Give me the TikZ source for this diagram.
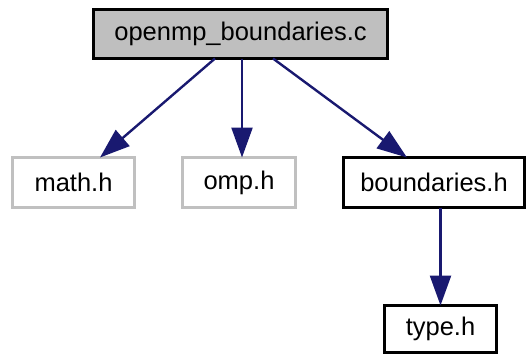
\documentclass[tikz,border=0pt]{standalone}
\usepackage{fontspec}
\setmainfont{Liberation Sans}
\usetikzlibrary{arrows.meta}
\definecolor{edgecol}{HTML}{191970}
\definecolor{greyfill}{HTML}{BFBFBF}
\definecolor{greyline}{HTML}{C0C0C0}
\begin{document}
\begin{tikzpicture}[x=1pt,y=-1pt,
  box/.style={draw=black,line width=2.4pt,inner sep=0pt,outer sep=0pt,
    font=\fontsize{25.5}{30}\selectfont,anchor=center},
  extbox/.style={box,draw=greyline},
  mainbox/.style={box,fill=greyfill},
  edge/.style={draw=edgecol,line width=2.4pt,-{Triangle[length=30pt,width=21pt]}}]
\useasboundingbox (0,0) rectangle (527,354);
\node[mainbox,minimum width=294pt,minimum height=49pt] (top) at (240.5,34) {openmp\_boundaries.c};
\node[extbox,minimum width=122pt,minimum height=50pt] (math) at (73.5,182.5) {math.h};
\node[extbox,minimum width=113pt,minimum height=50pt] (omp) at (239,182.5) {omp.h};
\node[box,minimum width=181pt,minimum height=50pt] (bnd) at (434,182.5) {boundaries.h};
\node[box,minimum width=112pt,minimum height=47pt] (type) at (440.5,329) {type.h};
\draw[edge] ([xshift=-25.5pt]top.south) -- ([xshift=26.5pt]math.north);
\draw[edge] ([xshift=1.5pt]top.south) -- ([xshift=3pt]omp.north);
\draw[edge] ([xshift=32.5pt]top.south) -- ([xshift=-27pt]bnd.north);
\draw[edge] (bnd.south -| type.north) -- (type.north);
\end{tikzpicture}
\end{document}
